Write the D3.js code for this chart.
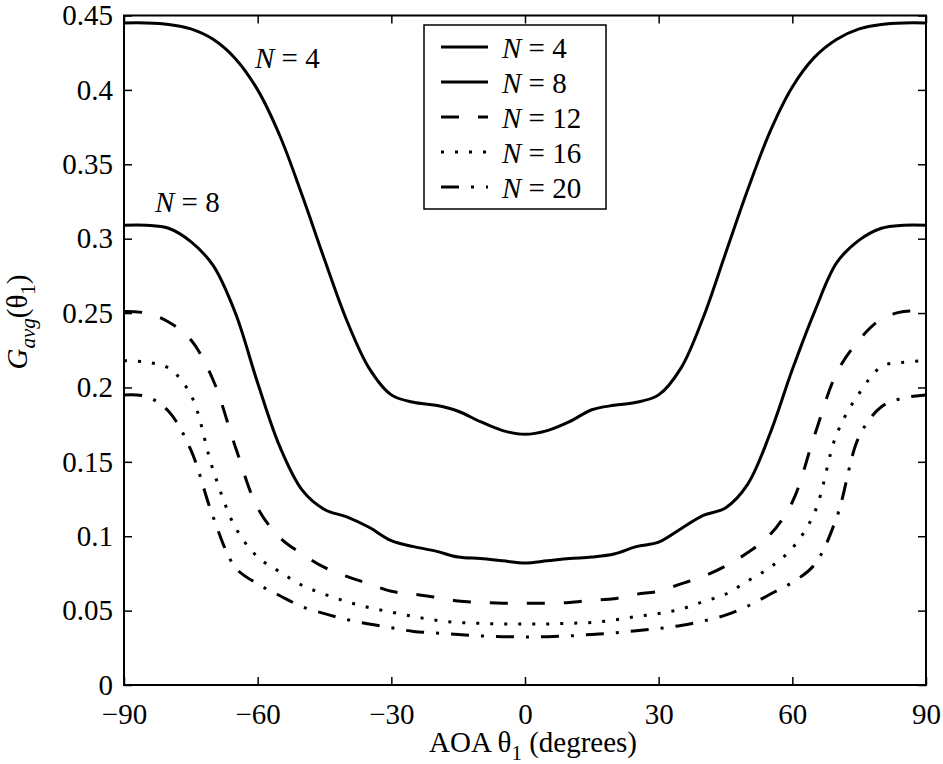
<!DOCTYPE html>
<html>
<head>
<meta charset="utf-8">
<script src="https://cdn.jsdelivr.net/npm/d3@7"></script>
<style>
  html, body { margin: 0; padding: 0; background: #fff; }
  svg text { font-family: "Liberation Serif", "Times New Roman", serif !important; }
</style>
</head>
<body>
<div id="chart"></div>
<script>
(function() {
  // page size
  const width = 943;
  const height = 764;
  const serif = '"Liberation Serif", "Times New Roman", serif';

  // data (AOA in degrees, gain)
  var angles = [-90, -85, -80, -75, -70, -65, -60, -55, -50, -45, -40, -35, -30, -25, -20, -15, -10, -5, 0,
    5, 10, 15, 20, 25, 30, 35, 40, 45, 50, 55, 60, 65, 70, 75, 80, 85, 90];

  var gainN4 = [0.445, 0.445, 0.444, 0.441, 0.434, 0.421, 0.400, 0.369, 0.329, 0.286, 0.245, 0.213, 0.195, 0.190, 0.188, 0.184, 0.177, 0.171, 0.1685,
    0.171, 0.177, 0.185, 0.188, 0.190, 0.195, 0.213, 0.247, 0.290, 0.333, 0.372, 0.402, 0.422, 0.434, 0.441, 0.444, 0.445, 0.445];
  var gainN8 = [0.309, 0.309, 0.307, 0.298, 0.282, 0.250, 0.203, 0.160, 0.131, 0.118, 0.113, 0.106, 0.097, 0.093, 0.090, 0.086, 0.085, 0.0835, 0.082,
    0.0835, 0.085, 0.086, 0.088, 0.093, 0.096, 0.105, 0.114, 0.119, 0.135, 0.169, 0.212, 0.251, 0.284, 0.299, 0.307, 0.309, 0.309];
  var gainN12 = [0.251, 0.250, 0.244, 0.232, 0.205, 0.160, 0.119, 0.099, 0.088, 0.079, 0.073, 0.068, 0.063, 0.061, 0.059, 0.0565, 0.0555, 0.055, 0.055,
    0.055, 0.0555, 0.057, 0.058, 0.061, 0.063, 0.068, 0.073, 0.080, 0.089, 0.101, 0.123, 0.168, 0.210, 0.232, 0.246, 0.251, 0.251];
  var gainN16 = [0.218, 0.217, 0.213, 0.195, 0.1445, 0.106, 0.086, 0.076, 0.067, 0.061, 0.056, 0.052, 0.049, 0.046, 0.0435, 0.042, 0.0415, 0.041, 0.041,
    0.041, 0.0415, 0.042, 0.0437, 0.046, 0.048, 0.051, 0.056, 0.061, 0.070, 0.079, 0.092, 0.116, 0.169, 0.196, 0.214, 0.217, 0.218];
  var gainN20 = [0.195, 0.194, 0.184, 0.158, 0.113, 0.079, 0.068, 0.060, 0.0526, 0.048, 0.044, 0.041, 0.0385, 0.036, 0.035, 0.034, 0.033, 0.0325, 0.0323,
    0.0325, 0.033, 0.034, 0.035, 0.0365, 0.038, 0.040, 0.043, 0.047, 0.053, 0.061, 0.069, 0.081, 0.113, 0.167, 0.187, 0.193, 0.195];

  var seriesNames = ["N = 4", "N = 8", "N = 12", "N = 16", "N = 20"];
  var seriesValues = [gainN4, gainN8, gainN12, gainN16, gainN20];
  var dashes = ["none", "none", "18,19", "3,11", "18,12,3,12"];

  var xTicks = [-90, -60, -30, 0, 30, 60, 90];
  var yTicks = [0, 0.05, 0.1, 0.15, 0.2, 0.25, 0.3, 0.35, 0.4, 0.45];

  var plot = { left: 124, right: 926, top: 15.5, bottom: 685 };
  var fontSize = 29;

  var svg = d3.select("#chart")
    .append("svg")
    .attr("width", width)
    .attr("height", height)
    .attr("font-family", serif);

  var x = d3.scaleLinear().domain([-90, 90]).range([plot.left, plot.right]);
  var y = d3.scaleLinear().domain([0, 0.45]).range([plot.bottom, plot.top]);

  // axes, ticks pointing inwards
  function styleAxis(g, showText) {
    g.attr("font-family", serif);
    g.select(".domain").remove();
    g.selectAll(".tick line").attr("stroke", "#000").attr("stroke-width", 1.5);
    g.selectAll(".tick text")
      .attr("fill", "#000")
      .style("font-family", serif)
      .style("font-size", fontSize + "px")
      .style("display", showText ? null : "none");
  }

  svg.append("g")
    .attr("transform", "translate(0," + plot.bottom + ")")
    .call(d3.axisBottom(x).tickValues(xTicks).tickSize(-8).tickSizeOuter(0).tickPadding(18))
    .call(styleAxis, true);

  svg.append("g")
    .attr("transform", "translate(0," + plot.top + ")")
    .call(d3.axisTop(x).tickValues(xTicks).tickSize(-8).tickSizeOuter(0))
    .call(styleAxis, false);

  svg.append("g")
    .attr("transform", "translate(" + plot.left + ",0)")
    .call(d3.axisLeft(y).tickValues(yTicks).tickFormat(d3.format("")).tickSize(-8).tickSizeOuter(0).tickPadding(11))
    .call(styleAxis, true);

  svg.append("g")
    .attr("transform", "translate(" + plot.right + ",0)")
    .call(d3.axisRight(y).tickValues(yTicks).tickSize(-8).tickSizeOuter(0))
    .call(styleAxis, false);

  svg.append("rect")
    .attr("x", plot.left)
    .attr("y", plot.top)
    .attr("width", plot.right - plot.left)
    .attr("height", plot.bottom - plot.top)
    .attr("fill", "none")
    .attr("stroke", "#000")
    .attr("stroke-width", 2);

  // curves
  var line = d3.line()
    .x(function(d, i) { return x(angles[i]); })
    .y(function(d) { return y(d); })
    .curve(d3.curveCatmullRom.alpha(0.5));

  svg.selectAll(".curve")
    .data(seriesValues)
    .enter()
    .append("path")
    .attr("class", "curve")
    .attr("d", line)
    .attr("fill", "none")
    .attr("stroke", "#000")
    .attr("stroke-width", 3)
    .attr("stroke-dasharray", function(d, i) { return dashes[i] === "none" ? null : dashes[i]; });

  // label helper: italic N then the rest
  function nLabel(sel, txt) {
    var parts = txt.split(" = ");
    sel.append("tspan").style("font-style", "italic").text("N");
    sel.append("tspan").text(" = " + parts[1]);
  }

  svg.append("text")
    .attr("x", 255).attr("y", 68)
    .style("font-size", fontSize + "px")
    .call(nLabel, seriesNames[0]);

  svg.append("text")
    .attr("x", 155).attr("y", 212)
    .style("font-size", fontSize + "px")
    .call(nLabel, seriesNames[1]);

  // legend
  var legend = svg.append("g");
  legend.append("rect")
    .attr("x", 424).attr("y", 25)
    .attr("width", 182).attr("height", 184)
    .attr("fill", "#fff")
    .attr("stroke", "#000")
    .attr("stroke-width", 1.5);

  var rows = legend.selectAll(".row")
    .data(seriesNames)
    .enter()
    .append("g")
    .attr("class", "row")
    .attr("transform", function(d, i) { return "translate(0," + (47 + i * 35) + ")"; });

  rows.append("line")
    .attr("x1", 441).attr("x2", 488)
    .attr("stroke", "#000")
    .attr("stroke-width", 3)
    .attr("stroke-dasharray", function(d, i) { return dashes[i] === "none" ? null : dashes[i]; });

  rows.append("text")
    .attr("x", 502).attr("y", 11)
    .style("font-size", fontSize + "px")
    .each(function(d) { d3.select(this).call(nLabel, d); });

  // axis titles
  var xTitle = svg.append("text")
    .attr("x", 533).attr("y", 752)
    .attr("text-anchor", "middle")
    .style("font-size", fontSize + "px");
  xTitle.append("tspan").text("AOA \u03b8");
  xTitle.append("tspan").attr("dy", 8).style("font-size", "21px").text("1");
  xTitle.append("tspan").attr("dy", -8).text(" (degrees)");

  var yTitle = svg.append("text")
    .attr("transform", "translate(27,322) rotate(-90)")
    .attr("text-anchor", "middle")
    .style("font-size", fontSize + "px");
  yTitle.append("tspan").style("font-style", "italic").text("G");
  yTitle.append("tspan").attr("dy", 8).style("font-style", "italic").style("font-size", "21px").text("avg");
  yTitle.append("tspan").attr("dy", -8).text("(\u03b8");
  yTitle.append("tspan").attr("dy", 8).style("font-size", "21px").text("1");
  yTitle.append("tspan").attr("dy", -8).text(")");
}());
</script>
</body>
</html>
